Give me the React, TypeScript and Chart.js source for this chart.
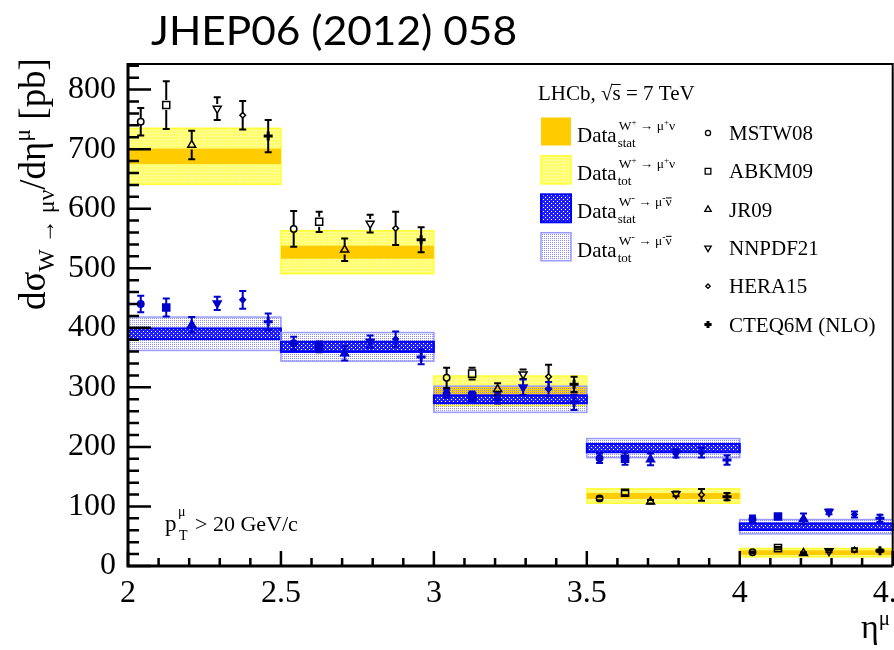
import React, { useEffect, useRef } from 'react';
import { Chart, registerables } from 'chart.js';
import { drawPoint } from 'chart.js/helpers';

Chart.register(...registerables);

// Muon pseudorapidity bins
const binEdges = [2, 2.5, 3, 3.5, 4, 4.5];

// Measured dσ/dη for W+ → μ+ν (pb) with statistical and total uncertainties
const wPlusValue = [688, 527, 294, 117.5, 22.4];
const wPlusStat = [13, 11, 6.5, 5, 4];
const wPlusTot = [47, 36, 25, 12, 7];

// Measured dσ/dη for W- → μ-ν̄ (pb)
const wMinusValue = [390, 368, 280, 198, 66];
const wMinusStat = [9, 8.5, 6.5, 7, 5.5];
const wMinusTot = [28, 24, 22, 16, 12];

const modelNames = ['MSTW08', 'ABKM09', 'JR09', 'NNPDF21', 'HERA15', 'CTEQ6M (NLO)'];

// Predictions, W+
const mstw08Plus = [746, 566, 316, 113.5, 23];
const mstw08PlusErr = [23, 30, 17, 3, 1.5];
const abkm09Plus = [774, 578, 323, 123, 30];
const abkm09PlusErr = [40, 17, 10, 4, 2];
const jr09Plus = [707, 531, 297, 108, 21.5];
const jr09PlusErr = [24, 19, 10, 3, 1.5];
const nnpdf21Plus = [768, 575, 322, 121, 25];
const nnpdf21PlusErr = [19, 15, 8, 4, 2];
const hera15Plus = [757, 567, 318, 119.5, 27];
const hera15PlusErr = [24, 28, 20, 10, 3];
const cteq6mPlus = [722, 548, 305, 116.5, 25.5];
const cteq6mPlusErr = [27, 21, 13, 6, 2];

// Predictions, W-
const mstw08Minus = [440, 374, 289, 181, 79];
const mstw08MinusErr = [14, 11, 7, 8, 6];
const abkm09Minus = [434, 368, 285, 180, 83];
const abkm09MinusErr = [15, 9, 8, 10, 3];
const jr09Minus = [405, 357, 282, 179, 79];
const jr09MinusErr = [13, 12, 9, 10, 9];
const nnpdf21Minus = [441, 377, 300, 189, 91];
const nnpdf21MinusErr = [11, 10, 13, 7, 4];
const hera15Minus = [447, 381, 297, 190, 86.5];
const hera15MinusErr = [15, 13, 12, 8, 5];
const cteq6mMinus = [410, 351, 275, 178, 80];
const cteq6mMinusErr = [14, 12, 13, 8, 6];

const xTicks = [2, 2.5, 3, 3.5, 4, 4.5];
const yTicks = [0, 100, 200, 300, 400, 500, 600, 700, 800];

const plusModels = [
  [mstw08Plus, mstw08PlusErr],
  [abkm09Plus, abkm09PlusErr],
  [jr09Plus, jr09PlusErr],
  [nnpdf21Plus, nnpdf21PlusErr],
  [hera15Plus, hera15PlusErr],
  [cteq6mPlus, cteq6mPlusErr],
];
const minusModels = [
  [mstw08Minus, mstw08MinusErr],
  [abkm09Minus, abkm09MinusErr],
  [jr09Minus, jr09MinusErr],
  [nnpdf21Minus, nnpdf21MinusErr],
  [hera15Minus, hera15MinusErr],
  [cteq6mMinus, cteq6mMinusErr],
];

const markerShapes: { pointStyle: any; radius: number; rotation: number; open: boolean }[] = [
  { pointStyle: 'circle', radius: 3.2, rotation: 0, open: true },
  { pointStyle: 'rect', radius: 5, rotation: 0, open: true },
  { pointStyle: 'triangle', radius: 4.6, rotation: 0, open: true },
  { pointStyle: 'triangle', radius: 4.6, rotation: 180, open: true },
  { pointStyle: 'rectRot', radius: 2.8, rotation: 0, open: true },
  { pointStyle: 'cross', radius: 4.5, rotation: 0, open: false },
];

const SERIF = '"Liberation Serif", "Times New Roman", Times, serif';
const BLACK = '#000000';
const BLUE = '#0000CC';

type Seg = { t: string; s: number; dy?: number; bar?: boolean };

function segsWidth(ctx: CanvasRenderingContext2D, segs: Seg[], k = 1) {
  let w = 0;
  for (const g of segs) {
    ctx.font = `${g.s * k}px ${SERIF}`;
    w += ctx.measureText(g.t).width;
  }
  return w;
}

function drawSegs(ctx: CanvasRenderingContext2D, segs: Seg[], x: number, y: number, k = 1) {
  let cx = x;
  for (const g of segs) {
    const size = g.s * k;
    ctx.font = `${size}px ${SERIF}`;
    const w = ctx.measureText(g.t).width;
    const by = y + (g.dy || 0) * k;
    ctx.fillText(g.t, cx, by);
    if (g.bar) {
      ctx.beginPath();
      ctx.lineWidth = 1;
      const top = by - size * 0.62;
      ctx.moveTo(cx + 0.5, top);
      ctx.lineTo(cx + w, top);
      ctx.stroke();
    }
    cx += w;
  }
  return cx;
}

function makeTile(size: number, bg: string | null, fg: string, dots: number[][]) {
  const c = document.createElement('canvas');
  c.width = size;
  c.height = size;
  const g = c.getContext('2d')!;
  if (bg) {
    g.fillStyle = bg;
    g.fillRect(0, 0, size, size);
  }
  g.fillStyle = fg;
  dots.forEach(([dx, dy]) => g.fillRect(dx, dy, 1, 1));
  return c;
}

export default function App() {
  const ref = useRef<HTMLCanvasElement>(null);

  useEffect(() => {
    document.body.style.margin = '0';
    const canvas = ref.current!;
    const c2d = canvas.getContext('2d')!;

    const fills = {
      plusStat: '#FFCC00',
      plusTot: c2d.createPattern(makeTile(3, '#FFFF70', '#FFFFD8', [[1, 1]]), 'repeat')!,
      minusStat: c2d.createPattern(makeTile(4, '#1E1EFF', '#FFFFFF', [[1, 1], [3, 3]]), 'repeat')!,
      minusTot: c2d.createPattern(
        makeTile(4, null, '#8C8CFF', [[0, 0], [2, 2], [0, 2], [2, 0]]),
        'repeat',
      )!,
    };

    const band = (
      ctx: CanvasRenderingContext2D,
      x0: number, x1: number, y0: number, y1: number,
      fill: any, stroke: string | null, lw: number,
    ) => {
      ctx.fillStyle = fill;
      ctx.fillRect(x0, y0, x1 - x0, y1 - y0);
      if (stroke) {
        ctx.strokeStyle = stroke;
        ctx.lineWidth = lw;
        ctx.strokeRect(x0, y0, x1 - x0, y1 - y0);
      }
    };

    const nModels = modelNames.length;
    const xOf = (bin: number, m: number) => {
      const lo = binEdges[bin];
      const hi = binEdges[bin + 1];
      return lo + ((m + 0.5) * (hi - lo)) / nModels;
    };

    const datasets: any[] = [];
    const addSet = (models: any[], color: string, charge: string) => {
      models.forEach(([vals, errs]: number[][], m: number) => {
        const shp = markerShapes[m];
        const filled = charge === 'minus';
        datasets.push({
          label: `${modelNames[m]} ${charge}`,
          data: vals.map((v, i) => ({ x: xOf(i, m), y: v })),
          errs,
          open: shp.open && !filled,
          pointStyle: shp.pointStyle,
          pointRadius: shp.radius,
          pointRotation: shp.rotation,
          pointBorderWidth: shp.pointStyle === 'cross' ? 3 : 1.5,
          pointBorderColor: color,
          pointBackgroundColor: shp.open && !filled ? 'rgba(0,0,0,0)' : color,
          showLine: false,
        });
      });
    };
    addSet(plusModels, BLACK, 'plus');
    addSet(minusModels, BLUE, 'minus');

    const bandsPlugin = {
      id: 'bands',
      beforeDatasetsDraw(chart: any) {
        const { ctx, scales: { x, y } } = chart;
        ctx.save();
        for (let i = 0; i < wPlusValue.length; i++) {
          const x0 = x.getPixelForValue(binEdges[i]);
          const x1 = x.getPixelForValue(binEdges[i + 1]);
          const v = wPlusValue[i];
          band(ctx, x0, x1, y.getPixelForValue(v + wPlusTot[i]), y.getPixelForValue(v - wPlusTot[i]), fills.plusTot, '#FFFF33', 1.5);
          band(ctx, x0, x1, y.getPixelForValue(v + wPlusStat[i]), y.getPixelForValue(v - wPlusStat[i]), fills.plusStat, null, 0);
        }
        for (let i = 0; i < wMinusValue.length; i++) {
          const x0 = x.getPixelForValue(binEdges[i]);
          const x1 = x.getPixelForValue(binEdges[i + 1]);
          const v = wMinusValue[i];
          band(ctx, x0, x1, y.getPixelForValue(v + wMinusTot[i]), y.getPixelForValue(v - wMinusTot[i]), fills.minusTot, '#9999FF', 1.5);
          band(ctx, x0, x1, y.getPixelForValue(v + wMinusStat[i]), y.getPixelForValue(v - wMinusStat[i]), fills.minusStat, '#0000FF', 2);
        }
        // error bars of the predictions
        chart.data.datasets.forEach((ds: any, di: number) => {
          const meta = chart.getDatasetMeta(di);
          ctx.strokeStyle = ds.pointBorderColor;
          ctx.lineWidth = 2;
          meta.data.forEach((el: any, i: number) => {
            const v = ds.data[i].y;
            const e = ds.errs[i];
            const px = el.x;
            const pc = el.y;
            const top = y.getPixelForValue(v + e);
            const bot = y.getPixelForValue(v - e);
            const gap = ds.open ? ds.pointRadius : 0;
            ctx.beginPath();
            if (pc - gap > top) {
              ctx.moveTo(px, pc - gap);
              ctx.lineTo(px, top);
            }
            if (pc + gap < bot) {
              ctx.moveTo(px, pc + gap);
              ctx.lineTo(px, bot);
            }
            ctx.moveTo(px - 3.5, top);
            ctx.lineTo(px + 3.5, top);
            ctx.moveTo(px - 3.5, bot);
            ctx.lineTo(px + 3.5, bot);
            ctx.stroke();
          });
        });
        ctx.restore();
      },
    };

    const decorPlugin = {
      id: 'decor',
      afterDraw(chart: any) {
        const { ctx, chartArea: a, scales: { x, y } } = chart;
        ctx.save();
        ctx.strokeStyle = BLACK;
        ctx.fillStyle = BLACK;

        // frame and axes
        ctx.lineWidth = 2;
        ctx.beginPath();
        ctx.moveTo(a.left, a.top);
        ctx.lineTo(a.right, a.top);
        ctx.lineTo(a.right, a.bottom);
        ctx.stroke();
        ctx.lineWidth = 3;
        ctx.beginPath();
        ctx.moveTo(a.left, a.top - 1);
        ctx.lineTo(a.left, a.bottom);
        ctx.lineTo(a.right, a.bottom);
        ctx.stroke();

        // inward ticks
        ctx.lineWidth = 2.5;
        ctx.beginPath();
        for (let k = 0; k * 20 <= y.max; k++) {
          const py = y.getPixelForValue(k * 20);
          const len = k % 5 === 0 ? 23 : 11;
          ctx.moveTo(a.left, py);
          ctx.lineTo(a.left + len, py);
        }
        for (let k = 0; k <= 25; k++) {
          const px = x.getPixelForValue(binEdges[0] + k / 10);
          const len = k % 5 === 0 ? 15 : 8;
          ctx.moveTo(px, a.bottom);
          ctx.lineTo(px, a.bottom - len);
        }
        ctx.stroke();

        ctx.textBaseline = 'alphabetic';
        ctx.textAlign = 'left';

        // page title
        const title = 'JHEP06 (2012) 058';
        ctx.font = '41px Lato, "Open Sans", sans-serif';
        const tw = ctx.measureText(title).width;
        ctx.save();
        ctx.translate(151, 45);
        ctx.scale(366 / tw, 1);
        ctx.fillText(title, 0, 0);
        ctx.restore();

        // y-axis title
        const yTitle: Seg[] = [
          { t: 'dσ', s: 34 },
          { t: 'W → μν', s: 22, dy: 8 },
          { t: '/dη', s: 34 },
          { t: 'μ', s: 22, dy: -14 },
          { t: ' [pb]', s: 34 },
        ];
        const yk = 252 / segsWidth(ctx, yTitle);
        ctx.save();
        ctx.translate(45, 310);
        ctx.rotate(-Math.PI / 2);
        drawSegs(ctx, yTitle, 0, 0, yk);
        ctx.restore();

        // x-axis title
        drawSegs(ctx, [{ t: 'η', s: 34 }, { t: 'μ', s: 21, dy: -13 }], 861, 638);

        // kinematic cut
        drawSegs(ctx, [{ t: 'p', s: 23 }], 165, 531);
        drawSegs(ctx, [{ t: 'μ', s: 14 }], 178, 516);
        drawSegs(ctx, [{ t: 'T', s: 14 }], 179, 540);
        drawSegs(ctx, [{ t: '> 20 GeV/c', s: 22 }], 195, 531);

        // legend header
        let hx = drawSegs(ctx, [{ t: 'LHCb, ', s: 21 }], 538, 100);
        ctx.font = `21px ${SERIF}`;
        ctx.fillText('√', hx, 100);
        hx += ctx.measureText('√').width;
        hx = drawSegs(ctx, [{ t: 's', s: 21 }], hx, 100);
        ctx.lineWidth = 1;
        ctx.beginPath();
        ctx.moveTo(hx - 9, 84.5);
        ctx.lineTo(hx, 84.5);
        ctx.stroke();
        drawSegs(ctx, [{ t: ' = 7 TeV', s: 21 }], hx, 100);

        // legend, measured data
        const supPlus: Seg[] = [
          { t: 'W', s: 13.5 }, { t: '+', s: 9, dy: -5 }, { t: ' → μ', s: 13.5 },
          { t: '+', s: 9, dy: -5 }, { t: 'ν', s: 13.5 },
        ];
        const supMinus: Seg[] = [
          { t: 'W', s: 13.5 }, { t: '-', s: 10, dy: -5 }, { t: ' → μ', s: 13.5 },
          { t: '-', s: 10, dy: -5 }, { t: 'ν', s: 13.5, bar: true },
        ];
        const dataRows = [
          { fill: fills.plusStat, stroke: null, lw: 0, sup: supPlus, sub: 'stat' },
          { fill: fills.plusTot, stroke: '#FFFF33', lw: 1.5, sup: supPlus, sub: 'tot' },
          { fill: fills.minusStat, stroke: '#0000FF', lw: 2, sup: supMinus, sub: 'stat' },
          { fill: fills.minusTot, stroke: '#9999FF', lw: 1.5, sup: supMinus, sub: 'tot' },
        ];
        dataRows.forEach((r, i) => {
          const cy = 131.5 + i * 38.4;
          band(ctx, 541, 571, cy - 14, cy + 14, r.fill, r.stroke, r.lw);
          ctx.fillStyle = BLACK;
          ctx.strokeStyle = BLACK;
          const ex = drawSegs(ctx, [{ t: 'Data', s: 21 }], 577, cy + 10);
          drawSegs(ctx, r.sup, ex + 2, cy - 2);
          drawSegs(ctx, [{ t: r.sub, s: 13 }], ex + 1, cy + 15);
        });

        // legend, predictions
        modelNames.forEach((name, m) => {
          const cy = 133 + m * 38.3;
          const shp = markerShapes[m];
          ctx.strokeStyle = BLACK;
          ctx.fillStyle = shp.open ? 'rgba(0,0,0,0)' : BLACK;
          ctx.lineWidth = shp.pointStyle === 'cross' ? 3 : 1.3;
          drawPoint(ctx, {
            pointStyle: shp.pointStyle,
            rotation: shp.rotation,
            radius: shp.radius * 0.8,
            borderWidth: ctx.lineWidth,
          } as any, 708, cy);
          ctx.fillStyle = BLACK;
          drawSegs(ctx, [{ t: name, s: 21 }], 729, cy + 7);
        });

        ctx.restore();
      },
    };

    const tickFont = { family: SERIF, size: 32 };
    const chart = new Chart(canvas, {
      type: 'scatter',
      data: { datasets },
      options: {
        animation: false,
        responsive: false,
        maintainAspectRatio: false,
        events: [],
        layout: { padding: { top: 64, right: 1.3, left: 0, bottom: 0 }, autoPadding: false },
        plugins: { legend: { display: false }, tooltip: { enabled: false } },
        scales: {
          x: {
            type: 'linear',
            min: 2,
            max: 4.5,
            grid: { display: false, drawTicks: false },
            border: { display: false },
            ticks: {
              font: tickFont,
              color: BLACK,
              padding: 8,
              maxRotation: 0,
              autoSkip: false,
              callback: (v: any) => String(v),
            },
            afterBuildTicks: (s: any) => {
              s.ticks = xTicks.map((v) => ({ value: v }));
            },
            afterFit: (s: any) => {
              s.height = 84;
              s.paddingLeft = 0;
              s.paddingRight = 0;
            },
          },
          y: {
            type: 'linear',
            min: 0,
            max: 843,
            grid: { display: false, drawTicks: false },
            border: { display: false },
            ticks: {
              font: tickFont,
              color: BLACK,
              padding: 12,
              autoSkip: false,
              callback: (v: any) => String(v),
            },
            afterBuildTicks: (s: any) => {
              s.ticks = yTicks.map((v) => ({ value: v }));
            },
            afterFit: (s: any) => {
              s.width = 128;
              s.paddingTop = 0;
              s.paddingBottom = 0;
            },
          },
        },
      } as any,
      plugins: [bandsPlugin, decorPlugin],
    });

    return () => chart.destroy();
  }, []);

  return (
    <canvas
      ref={ref}
      width={894}
      height={650}
      style={{ display: 'block', width: 894, height: 650 }}
    />
  );
}
